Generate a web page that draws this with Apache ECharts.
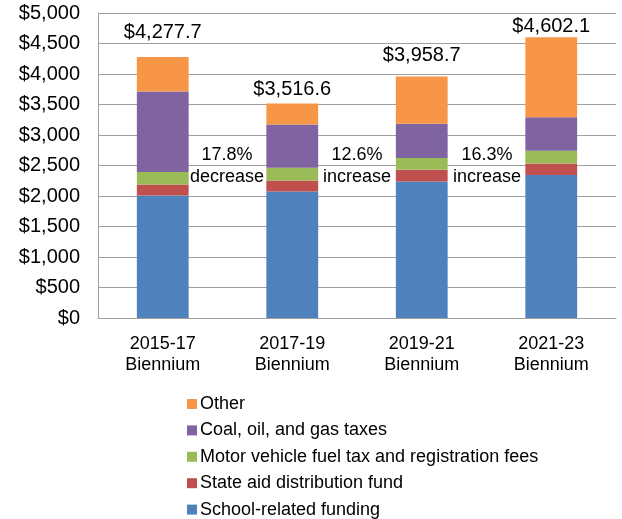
<!DOCTYPE html>
<html>
<head>
<meta charset="utf-8">
<script src="https://cdn.jsdelivr.net/npm/echarts@6/dist/echarts.min.js"></script>
<style>
  html, body { margin: 0; padding: 0; background: #fff; }
  #chart { width: 622px; height: 519px; }
</style>
</head>
<body>
<div id="chart"></div>
<script>
// values in $ millions
const categories = ['2015-17\nBiennium', '2017-19\nBiennium', '2019-21\nBiennium', '2021-23\nBiennium']
const school = [2010, 2075, 2239, 2344]
const stateAid = [180, 181, 192, 190]
const motorVehicle = [203, 208, 192, 209]
const coalOilGas = [1322, 710, 562, 546]
const other = [563, 343, 774, 1313]
const totals = [4277.7, 3516.6, 3958.7, 4602.1]
const changes = ['17.8%\ndecrease', '12.6%\nincrease', '16.3%\nincrease']

const FONT = '"Liberation Sans", Arial, sans-serif'
const labelGap = [15, 4, 11, 1]

function money(v) {
  return '$' + v.toLocaleString('en-US', { minimumFractionDigits: 1, maximumFractionDigits: 1 })
}

function stack(name, data, color) {
  return {
    name: name,
    type: 'bar',
    stack: 'total',
    barWidth: '40%',
    data: data,
    itemStyle: { color: color },
    animation: false
  }
}

const chart = echarts.init(document.getElementById('chart'))

const topSeries = stack('Other', other.map((v, i) => ({
  value: v,
  label: { distance: labelGap[i] }
})), '#F79646')
topSeries.label = {
  show: true,
  position: 'top',
  color: '#000',
  fontFamily: FONT,
  fontSize: 20,
  formatter: p => money(totals[p.dataIndex])
}

chart.setOption({
  textStyle: { fontFamily: FONT },
  grid: { left: 98, right: 6, top: 13, bottom: 201 },
  legend: {
    orient: 'vertical',
    left: 187,
    top: 395,
    height: 150,
    icon: 'rect',
    itemWidth: 10,
    itemHeight: 10,
    itemGap: 8.4,
    padding: 0,
    data: ['Other', 'Coal, oil, and gas taxes', 'Motor vehicle fuel tax and registration fees',
      'State aid distribution fund', 'School-related funding'],
    textStyle: { fontSize: 18, color: '#000', lineHeight: 18, padding: [0, 0, 0, -2] },
    selectedMode: false
  },
  xAxis: {
    type: 'category',
    data: categories,
    axisLine: { lineStyle: { color: '#a0a0a0', width: 1 } },
    axisTick: { show: false },
    axisLabel: { color: '#000', fontSize: 18, lineHeight: 21, margin: 16 }
  },
  yAxis: {
    type: 'value',
    min: 0,
    max: 5000,
    interval: 500,
    axisLine: { show: true, lineStyle: { color: '#a0a0a0', width: 1 } },
    axisTick: { show: false },
    splitLine: { lineStyle: { color: '#a0a0a0', width: 1 } },
    axisLabel: {
      color: '#000',
      fontSize: 20,
      margin: 18,
      formatter: v => '$' + v.toLocaleString('en-US')
    }
  },
  series: [
    stack('School-related funding', school, '#4F81BD'),
    stack('State aid distribution fund', stateAid, '#C0504D'),
    stack('Motor vehicle fuel tax and registration fees', motorVehicle, '#9BBB59'),
    stack('Coal, oil, and gas taxes', coalOilGas, '#8064A2'),
    topSeries
  ],
  graphic: changes.map((t, i) => ({
    type: 'text',
    x: 227 + i * 130,
    y: 166,
    style: {
      text: t,
      fill: '#000',
      font: '18px ' + FONT,
      lineHeight: 21.5,
      align: 'center',
      verticalAlign: 'middle'
    }
  }))
})
</script>
</body>
</html>
